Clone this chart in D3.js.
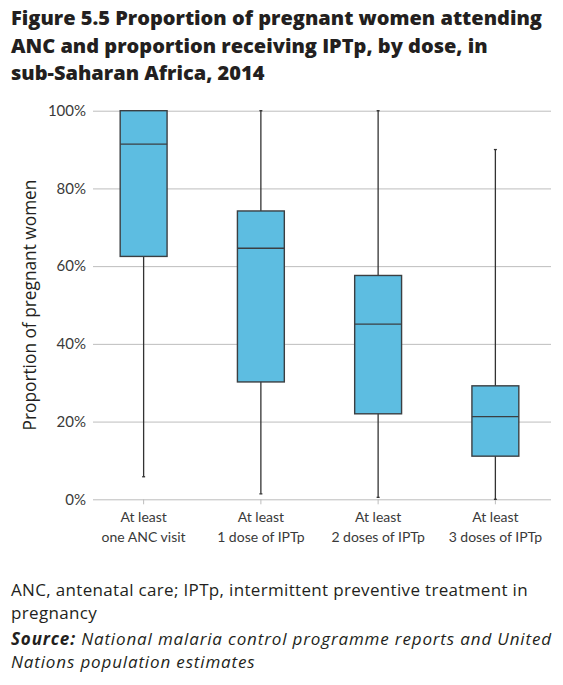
<!DOCTYPE html>
<html>
<head>
<meta charset="utf-8">
<script src="https://cdn.jsdelivr.net/npm/d3@7"></script>
<style>
  body { margin: 0; background: #fff; }
  svg { display: block; font-family: "Open Sans", Lato, sans-serif; }
</style>
</head>
<body>
<div id="chart"></div>
<script>
// Chart data (percent)
const categories = [
  ['At least', 'one ANC visit'],
  ['At least', '1 dose of IPTp'],
  ['At least', '2 doses of IPTp'],
  ['At least', '3 doses of IPTp']
];
const mins    = [5.8, 1.4, 0.5, 0];
const q1      = [62.5, 30.2, 22.0, 11.1];
const medians = [91.4, 64.6, 45.1, 21.3];
const q3      = [100, 74.2, 57.6, 29.2];
const maxs    = [100, 100, 100, 90];
const yTicks  = [0, 20, 40, 60, 80, 100];

const titleLines = [
  'Figure 5.5 Proportion of pregnant women attending',
  'ANC and proportion receiving IPTp, by dose, in',
  'sub-Saharan Africa, 2014'
];

// SVG canvas
const svgWidth = 563;
const svgHeight = 685;
const gridLeft = 93;
const gridRight = 551;

const svg = d3.select('#chart')
  .append('svg')
  .attr('width', svgWidth)
  .attr('height', svgHeight);

// Title
svg.append('text')
  .attr('x', 11)
  .attr('font-size', '20px')
  .attr('font-weight', 800)
  .attr('fill', '#231f20')
  .selectAll('tspan')
  .data(titleLines)
  .enter()
  .append('tspan')
  .attr('x', 11)
  .attr('y', (d, i) => 25 + i * 27.5)
  .text(d => d);

// Scales
const idx = categories.map((d, i) => i);
const boxes = idx.map(i => ({
  i: i, min: mins[i], q1: q1[i], med: medians[i], q3: q3[i], max: maxs[i]
}));

const xScale = d3.scaleBand()
  .domain(idx)
  .range([85, 554])
  .paddingInner(0.6)
  .paddingOuter(0.3);

const yScale = d3.scaleLinear()
  .domain([0, 100])
  .range([499.3, 110.7]);

// Y axis + gridlines
const yAxis = d3.axisLeft(yScale)
  .tickValues(yTicks)
  .tickSize(-(gridRight - gridLeft))
  .tickPadding(7)
  .tickFormat(d => d + '%');

const yG = svg.append('g')
  .attr('transform', `translate(${gridLeft}, 0)`)
  .call(yAxis);
yG.select('.domain').remove();
yG.selectAll('line').attr('stroke', '#bdbdbd').attr('stroke-width', 1);
yG.selectAll('text')
  .attr('font-family', 'Lato, sans-serif')
  .attr('font-size', '15px')
  .attr('fill', '#3a3a3a');

// X axis
const xAxis = d3.axisBottom(xScale)
  .tickSize(5)
  .tickFormat('');

const xG = svg.append('g')
  .attr('transform', `translate(0, ${yScale(0)})`)
  .call(xAxis);
xG.select('.domain').remove();
xG.selectAll('line').attr('stroke', '#bdbdbd');
xG.selectAll('.tick text').remove();
xG.selectAll('.tick')
  .append('text')
  .attr('text-anchor', 'middle')
  .attr('font-family', 'Lato, sans-serif')
  .attr('font-size', '14px')
  .attr('fill', '#3a3a3a')
  .selectAll('tspan')
  .data(d => categories[d])
  .enter()
  .append('tspan')
  .attr('x', 0)
  .attr('y', (d, i) => 23 + i * 20)
  .text(d => d);

// Box plots
const bw = xScale.bandwidth();
const boxG = svg.append('g');

// whiskers
boxG.selectAll('line.whisker')
  .data(boxes)
  .enter()
  .append('line')
  .attr('class', 'whisker')
  .attr('x1', d => xScale(d.i) + bw / 2)
  .attr('x2', d => xScale(d.i) + bw / 2)
  .attr('y1', d => yScale(d.min))
  .attr('y2', d => yScale(d.max))
  .attr('stroke', '#333')
  .attr('stroke-width', 1.3);

// small whisker caps
boxG.selectAll('line.cap')
  .data(boxes.flatMap(d => [{ i: d.i, v: d.min }, { i: d.i, v: d.max }]))
  .enter()
  .append('line')
  .attr('class', 'cap')
  .attr('x1', d => xScale(d.i) + bw / 2 - 1.5)
  .attr('x2', d => xScale(d.i) + bw / 2 + 1.5)
  .attr('y1', d => yScale(d.v))
  .attr('y2', d => yScale(d.v))
  .attr('stroke', '#333')
  .attr('stroke-width', 1.3);

// boxes
boxG.selectAll('rect')
  .data(boxes)
  .enter()
  .append('rect')
  .attr('x', d => xScale(d.i))
  .attr('width', bw)
  .attr('y', d => yScale(d.q3))
  .attr('height', d => yScale(d.q1) - yScale(d.q3))
  .attr('fill', '#5dbde1')
  .attr('stroke', '#3b3f42')
  .attr('stroke-width', 1.4);

// medians
boxG.selectAll('line.median')
  .data(boxes)
  .enter()
  .append('line')
  .attr('class', 'median')
  .attr('x1', d => xScale(d.i))
  .attr('x2', d => xScale(d.i) + bw)
  .attr('y1', d => yScale(d.med))
  .attr('y2', d => yScale(d.med))
  .attr('stroke', '#3b3f42')
  .attr('stroke-width', 1.3);

// Y axis label
svg.append('text')
  .attr('transform', 'rotate(-90)')
  .attr('x', -305)
  .attr('y', 36)
  .attr('text-anchor', 'middle')
  .attr('font-size', '17.3px')
  .attr('fill', '#231f20')
  .text('Proportion of pregnant women');

// Notes and source
const notes = svg.append('g')
  .attr('font-size', '17px')
  .attr('fill', '#231f20');

notes.append('text').attr('x', 11).attr('y', 596)
  .attr('letter-spacing', 0.33)
  .text('ANC, antenatal care; IPTp, intermittent preventive treatment in');
notes.append('text').attr('x', 11).attr('y', 619)
  .attr('letter-spacing', 0.33)
  .text('pregnancy');

const src = notes.append('text').attr('x', 11).attr('y', 645)
  .attr('font-style', 'italic')
  .attr('letter-spacing', 0.85);
src.append('tspan').attr('font-weight', 700).text('Source:');
src.append('tspan').text(' National malaria control programme reports and United');
notes.append('text').attr('x', 11).attr('y', 668)
  .attr('font-style', 'italic')
  .attr('letter-spacing', 0.85)
  .text('Nations population estimates');
</script>
</body>
</html>
